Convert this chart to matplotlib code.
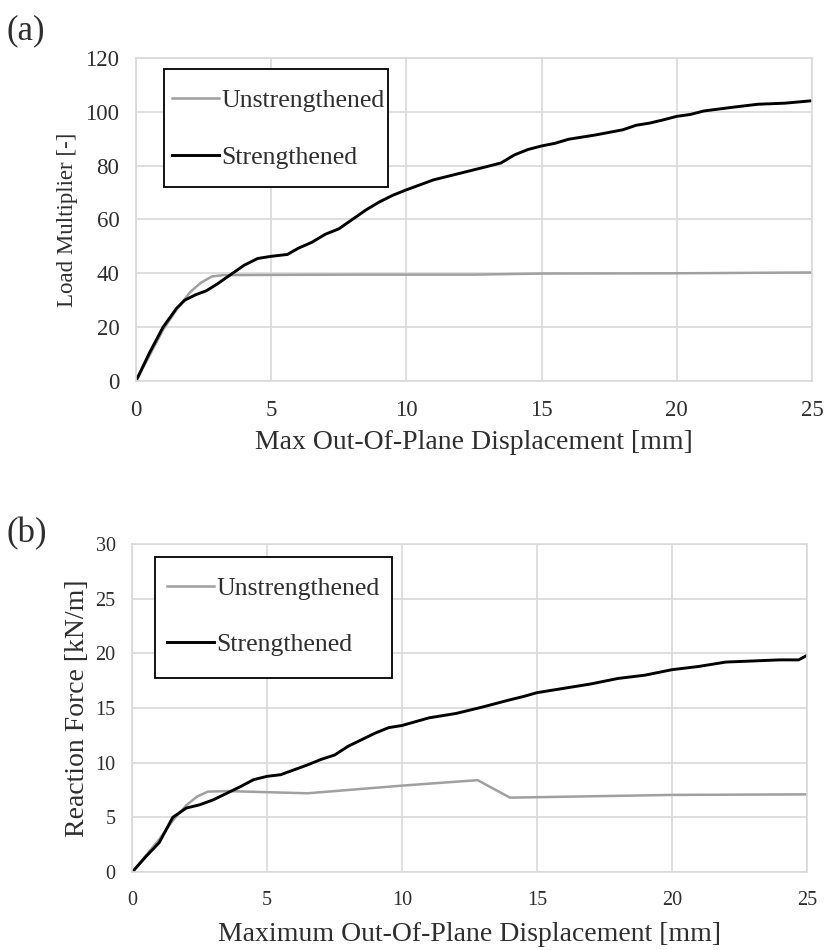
import matplotlib.pyplot as plt
from matplotlib.patches import Rectangle

plt.rcParams['font.family'] = ['Liberation Serif', 'DejaVu Serif']

# (a) load multiplier vs displacement
a_x_unstr = [0, 0.5, 1.0, 1.5, 2.0, 2.4, 2.8, 3.2, 5, 8, 12.5, 15, 20, 25]
a_y_unstr = [0, 9.5, 19, 26.5, 33, 36.5, 38.8, 39.3, 39.4, 39.5, 39.5, 39.9, 40.0, 40.3]
a_x_str = [0, 0.5, 1.0, 1.5, 1.8, 2.2, 2.6, 3.0, 3.5, 4.0, 4.5, 5.0, 5.6, 6.0, 6.5,
           7.0, 7.5, 8.0, 8.5, 9.0, 9.5, 10, 11, 12, 13, 13.5, 14, 14.5, 15, 15.5,
           16, 17, 18, 18.5, 19, 19.5, 20, 20.5, 21, 22, 23, 24, 25]
a_y_str = [0, 10.5, 20, 27, 30, 32, 33.5, 36, 39.5, 43, 45.5, 46.3, 47, 49.3, 51.5,
           54.5, 56.5, 60, 63.5, 66.5, 69, 71, 74.7, 77.2, 79.7, 81, 84, 86, 87.3, 88.3,
           89.8, 91.4, 93.3, 95, 95.8, 97, 98.3, 99, 100.3, 101.6, 102.8, 103.2, 104.1]

# (b) reaction force vs displacement
b_x_unstr = [0, 0.5, 1.0, 1.5, 2.0, 2.4, 2.8, 3.5, 5.0, 6.5, 10, 12.8, 14.0, 20, 25]
b_y_unstr = [0, 1.5, 3.0, 4.7, 6.1, 6.9, 7.35, 7.4, 7.3, 7.2, 7.9, 8.4, 6.8, 7.05, 7.1]
b_x_str = [0, 0.5, 1.0, 1.5, 2.0, 2.5, 3.0, 3.5, 4.0, 4.5, 5.0, 5.5, 6.0, 6.5, 7.0,
           7.5, 8.0, 8.5, 9.0, 9.5, 10, 11, 12, 13, 14, 14.5, 15, 16, 17, 18, 19,
           20, 21, 22, 23, 24, 24.7, 25]
b_y_str = [0, 1.4, 2.7, 5.0, 5.85, 6.15, 6.6, 7.2, 7.8, 8.45, 8.75, 8.9, 9.35, 9.8, 10.3,
           10.7, 11.5, 12.1, 12.7, 13.2, 13.4, 14.1, 14.5, 15.1, 15.75, 16.05, 16.4, 16.8,
           17.2, 17.7, 18.0, 18.5, 18.8, 19.2, 19.3, 19.4, 19.4, 19.8]

TXT = '#2e2e2e'
GRID = '#d9d9d9'
GRAY = '#a0a0a0'

fig = plt.figure(figsize=(8.27, 9.5), dpi=100)
ax1 = fig.add_axes([0.1645, 0.599, 0.8173, 0.340])
ax2 = fig.add_axes([0.160, 0.0821, 0.8155, 0.3453])


def style(ax, tick_fs, ylim, ystep, xpad):
    ax.set_xlim(0, 25)
    ax.set_ylim(0, ylim)
    ax.set_xticks(range(0, 26, 5))
    ax.set_yticks(range(0, ylim + 1, ystep))
    ax.grid(True, color=GRID, lw=1.2)
    ax.set_axisbelow(True)
    for s in ax.spines.values():
        s.set_color(GRID)
        s.set_linewidth(1.2)
    ax.tick_params(length=0, labelsize=tick_fs, labelcolor=TXT, pad=12)
    ax.tick_params(axis='x', pad=xpad)


ax1.plot(a_x_unstr, a_y_unstr, color=GRAY, lw=1.8, label='Unstrengthened')
ax1.plot(a_x_str, a_y_str, color='black', lw=2.1, label='Strengthened')
style(ax1, 16.5, 120, 20, 14)
ax1.set_xlabel('Max Out-Of-Plane Displacement [mm]', fontsize=20, color=TXT, labelpad=6)
ax1.set_ylabel('Load Multiplier [-]', fontsize=16.5, color=TXT, labelpad=5)

ax2.plot(b_x_unstr, b_y_unstr, color=GRAY, lw=1.8, label='Unstrengthened')
ax2.plot(b_x_str, b_y_str, color='black', lw=2.1, label='Strengthened')
style(ax2, 14.5, 30, 5, 14)
ax2.set_xlabel('Maximum Out-Of-Plane Displacement [mm]', fontsize=20, color=TXT, labelpad=8)
ax2.set_ylabel('Reaction Force [kN/m]', fontsize=20, color=TXT, labelpad=4)

# legend frame drawn as a box, entries placed inside it
legend_boxes = [(ax1, (0.041, 0.600, 0.332, 0.366), (0.053, 0.780)),
                (ax2, (0.034, 0.590, 0.351, 0.369), (0.051, 0.778))]
for ax, (bx, by, bw, bh), anchor in legend_boxes:
    ax.add_patch(Rectangle((bx, by), bw, bh, transform=ax.transAxes, facecolor='white',
                           edgecolor='black', lw=1.3, zorder=4))
    leg = ax.legend(loc='center left', bbox_to_anchor=anchor, fontsize=18.5,
                    handlelength=1.85, handletextpad=0.08, labelspacing=1.3,
                    borderpad=0, borderaxespad=0, frameon=False)
    leg.set_zorder(5)
    for t in leg.get_texts():
        t.set_color(TXT)

fig.text(0.008, 0.985, '(a)', fontsize=25, color=TXT, va='top')
fig.text(0.008, 0.456, '(b)', fontsize=25, color=TXT, va='top')

fig.savefig('out.png', dpi=100)
